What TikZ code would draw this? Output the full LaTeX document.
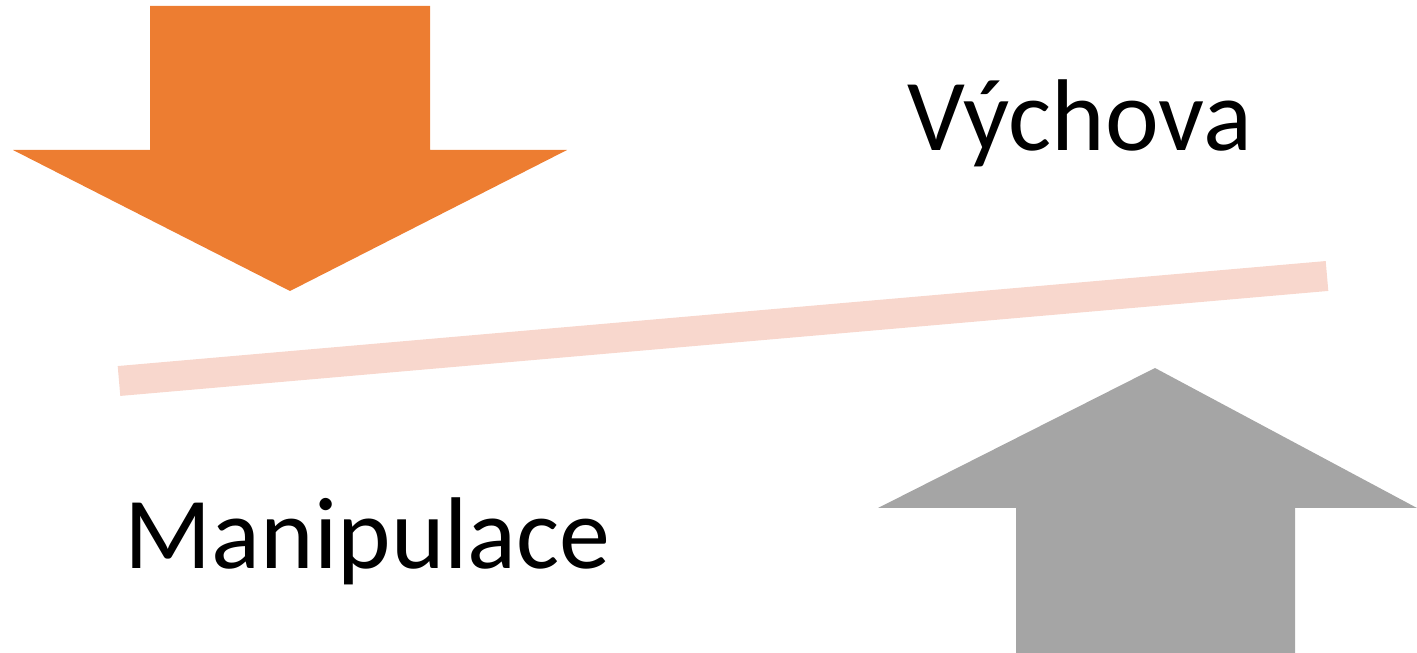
\documentclass[tikz,border=0pt]{standalone}
\usepackage{fontspec}
\setmainfont{Carlito}
\usepackage{tikz}
\usetikzlibrary{positioning}
\definecolor{arrorange}{HTML}{ED7D31}
\definecolor{arrgray}{HTML}{A5A5A5}
\definecolor{beampink}{HTML}{F8D7CD}
\tikzset{pushdown/.style = {fill=arrorange, draw=none}}
\tikzset{pushup/.style = {fill=arrgray, draw=none}}
\tikzset{beam/.style = {draw=beampink, line width=0.30cm}}
\tikzset{word/.style = {font=\fontsize{29}{35}\selectfont, inner sep=0, anchor=base west}}

\begin{document}
\begin{tikzpicture}
      \useasboundingbox (0, 0) rectangle (14.17, -6.53);
      \fill [pushdown] (1.50, -0.06) -- (4.30, -0.06) -- (4.30, -1.50) -- (5.67, -1.50)
        -- (2.90, -2.91) -- (0.13, -1.50) -- (1.50, -1.50) -- cycle;
      \fill [pushup] (10.16, -6.53) -- (12.95, -6.53) -- (12.95, -5.08) -- (14.17, -5.08)
        -- (11.55, -3.68) -- (8.78, -5.08) -- (10.16, -5.08) -- cycle;
      \coordinate (beamL) at (1.19, -3.81);
      \coordinate (beamR) at (13.27, -2.76);
      \draw [beam] (beamL) -- (beamR);
      \node [word] (vychova) at (9.07, -1.51) {Výchova};
      \node [word] (manip) at (1.24, -5.69) {Manipulace};
    \end{tikzpicture}
\end{document}
